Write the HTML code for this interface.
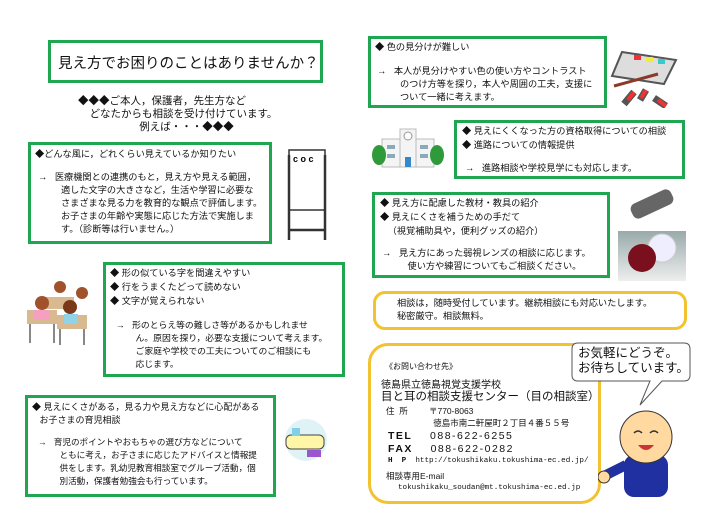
<!DOCTYPE html>
<html><head><meta charset="utf-8"><style>
*{margin:0;padding:0;box-sizing:border-box}
body{width:718px;height:519px;background:#fff;position:relative;overflow:hidden;font-family:"Liberation Sans","Noto Sans CJK JP",sans-serif;color:#111}
.a{position:absolute}
.g{position:absolute;border:3px solid #1fa650;background:#fff}
.t{font-size:9.2px;line-height:13px;white-space:nowrap}
.y{position:absolute;border:3px solid #f2c230;border-radius:12px;background:#fff}
</style></head><body>
<div class="g" style="left:48px;top:40px;width:275px;height:43px"></div>
<div class="a" style="left:58px;top:52px;font-size:14.5px">見え方でお困りのことはありませんか？</div>
<div class="a t" style="left:78px;top:95px;font-size:10.5px;line-height:13px">◆◆◆ご本人，保護者，先生方など<br>&nbsp;&nbsp;&nbsp;&nbsp;どなたからも相談を受け付けています。<br>&nbsp;&nbsp;&nbsp;&nbsp;&nbsp;&nbsp;&nbsp;&nbsp;&nbsp;&nbsp;&nbsp;&nbsp;&nbsp;&nbsp;&nbsp;&nbsp;&nbsp;&nbsp;&nbsp;&nbsp;&nbsp;例えば・・・◆◆◆</div>

<div class="g" style="left:28px;top:142px;width:244px;height:102px"></div>
<div class="a t" style="left:35px;top:148px">◆どんな風に，どれくらい見えているか知りたい</div>
<div class="a t" style="left:38px;top:171px">→&nbsp;&nbsp;&nbsp;医療機関との連携のもと，見え方や見える範囲，<br>&nbsp;&nbsp;&nbsp;&nbsp;&nbsp;&nbsp;&nbsp;&nbsp;&nbsp;適した文字の大きさなど，生活や学習に必要な<br>&nbsp;&nbsp;&nbsp;&nbsp;&nbsp;&nbsp;&nbsp;&nbsp;&nbsp;さまざまな見る力を教育的な観点で評価します。<br>&nbsp;&nbsp;&nbsp;&nbsp;&nbsp;&nbsp;&nbsp;&nbsp;&nbsp;お子さまの年齢や実態に応じた方法で実施しま<br>&nbsp;&nbsp;&nbsp;&nbsp;&nbsp;&nbsp;&nbsp;&nbsp;&nbsp;す。（診断等は行いません。）</div>
<svg class="a" style="left:284px;top:145px" width="46" height="100"><rect x="5" y="5" width="36" height="60" fill="#fff" stroke="#333" stroke-width="1.5"/><text x="9" y="17" font-size="9" font-weight="bold" font-family="Liberation Sans">c o c</text><path d="M5 10V95M41 10V95M5 85H41" stroke="#333" stroke-width="2.5" fill="none"/></svg>

<svg class="a" style="left:22px;top:275px" width="78" height="72"><rect x="5" y="35" width="30" height="14" fill="#d9b98f"/><rect x="35" y="40" width="30" height="14" fill="#d9b98f"/><rect x="22" y="22" width="30" height="12" fill="#d9b98f"/><circle cx="20" cy="28" r="7" fill="#a0522d"/><circle cx="48" cy="32" r="7" fill="#7a3a1a"/><circle cx="38" cy="12" r="6" fill="#a0522d"/><circle cx="60" cy="18" r="6" fill="#a0522d"/><rect x="12" y="35" width="16" height="10" fill="#f5a0c0"/><rect x="42" y="39" width="14" height="10" fill="#8fd3e8"/><path d="M8 49V68M32 49V68M38 54V70M62 54V70" stroke="#888" stroke-width="2"/></svg>
<div class="g" style="left:103px;top:262px;width:242px;height:115px"></div>
<div class="a t" style="left:110px;top:266px;line-height:14px">◆ 形の似ている字を間違えやすい<br>◆ 行をうまくたどって読めない<br>◆ 文字が覚えられない</div>
<div class="a t" style="left:116px;top:319px;font-size:8.8px">→&nbsp;&nbsp;&nbsp;形のとらえ等の難しさ等があるかもしれませ<br>&nbsp;&nbsp;&nbsp;&nbsp;&nbsp;&nbsp;&nbsp;&nbsp;ん。原因を探り，必要な支援について考えます。<br>&nbsp;&nbsp;&nbsp;&nbsp;&nbsp;&nbsp;&nbsp;&nbsp;ご家庭や学校での工夫についてのご相談にも<br>&nbsp;&nbsp;&nbsp;&nbsp;&nbsp;&nbsp;&nbsp;&nbsp;応じます。</div>

<div class="g" style="left:25px;top:395px;width:251px;height:102px"></div>
<div class="a t" style="left:32px;top:401px;font-size:9px">◆ 見えにくさがある，見る力や見え方などに心配がある<br>&nbsp;&nbsp;&nbsp;お子さまの育児相談</div>
<div class="a t" style="left:38px;top:436px;font-size:8.6px">→&nbsp;&nbsp;&nbsp;育児のポイントやおもちゃの選び方などについて<br>&nbsp;&nbsp;&nbsp;&nbsp;&nbsp;&nbsp;&nbsp;&nbsp;&nbsp;ともに考え，お子さまに応じたアドバイスと情報提<br>&nbsp;&nbsp;&nbsp;&nbsp;&nbsp;&nbsp;&nbsp;&nbsp;&nbsp;供をします。乳幼児教育相談室でグループ活動，個<br>&nbsp;&nbsp;&nbsp;&nbsp;&nbsp;&nbsp;&nbsp;&nbsp;&nbsp;別活動，保護者勉強会も行っています。</div>
<svg class="a" style="left:280px;top:418px" width="52" height="44"><circle cx="26" cy="22" r="21" fill="#dff2f5"/><rect x="6" y="17" width="38" height="14" rx="5" fill="#fff6a8" stroke="#444"/><rect x="12" y="10" width="8" height="8" fill="#7fd0e8"/><rect x="27" y="32" width="14" height="7" fill="#9a55d0"/></svg>

<div class="g" style="left:368px;top:36px;width:239px;height:72px"></div>
<div class="a t" style="left:375px;top:41px">◆ 色の見分けが難しい</div>
<div class="a t" style="left:377px;top:65px">→&nbsp;&nbsp;&nbsp;本人が見分けやすい色の使い方やコントラスト<br>&nbsp;&nbsp;&nbsp;&nbsp;&nbsp;&nbsp;&nbsp;&nbsp;&nbsp;のつけ方等を探り，本人や周囲の工夫，支援に<br>&nbsp;&nbsp;&nbsp;&nbsp;&nbsp;&nbsp;&nbsp;&nbsp;&nbsp;ついて一緒に考えます。</div>
<svg class="a" style="left:610px;top:48px" width="72" height="60"><path d="M12 4L66 12L54 36L2 28Z" fill="#ddd" stroke="#555" stroke-width="2"/><rect x="24" y="7" width="7" height="5" fill="#e33"/><rect x="36" y="9" width="7" height="5" fill="#ee3"/><rect x="48" y="11" width="7" height="5" fill="#3cc"/><path d="M4 38L48 26" stroke="#8b3a2a" stroke-width="3"/><path d="M14 56L24 44M30 52L36 42M44 50L56 58" stroke="#555" stroke-width="7"/><path d="M18 52L24 44M31 50L36 42M48 52L56 58" stroke="#e33" stroke-width="4"/></svg>

<svg class="a" style="left:372px;top:127px" width="72" height="42"><rect x="10" y="12" width="52" height="28" fill="#f4f4f4" stroke="#bbb"/><rect x="28" y="2" width="16" height="38" fill="#f4f4f4" stroke="#bbb"/><circle cx="36" cy="9" r="4" fill="#fff" stroke="#999"/><rect x="15" y="18" width="8" height="4" fill="#8ab"/><rect x="48" y="18" width="8" height="4" fill="#8ab"/><rect x="15" y="27" width="8" height="4" fill="#8ab"/><rect x="48" y="27" width="8" height="4" fill="#8ab"/><rect x="33" y="30" width="6" height="10" fill="#38c"/><ellipse cx="7" cy="28" rx="7" ry="10" fill="#2f9a3a"/><ellipse cx="65" cy="28" rx="7" ry="10" fill="#2f9a3a"/></svg>
<div class="g" style="left:454px;top:120px;width:231px;height:59px"></div>
<div class="a t" style="left:462px;top:124px;line-height:14px">◆ 見えにくくなった方の資格取得についての相談<br>◆ 進路についての情報提供</div>
<div class="a t" style="left:465px;top:162px">→&nbsp;&nbsp;&nbsp;進路相談や学校見学にも対応します。</div>

<div class="g" style="left:372px;top:192px;width:238px;height:86px"></div>
<div class="a t" style="left:380px;top:196px;line-height:14px">◆ 見え方に配慮した教材・教具の紹介<br>◆ 見えにくさを補うための手だて<br>&nbsp;&nbsp;&nbsp;（視覚補助具や，便利グッズの紹介）</div>
<div class="a t" style="left:382px;top:247px">→&nbsp;&nbsp;&nbsp;見え方にあった弱視レンズの相談に応じます。<br>&nbsp;&nbsp;&nbsp;&nbsp;&nbsp;&nbsp;&nbsp;&nbsp;&nbsp;&nbsp;使い方や練習についてもご相談ください。</div>
<svg class="a" style="left:618px;top:186px" width="70" height="95"><rect x="12" y="10" width="44" height="16" rx="6" fill="#666" transform="rotate(-25 34 18)"/><defs><linearGradient id="bg" x1="0" y1="0" x2="0" y2="1"><stop offset="0" stop-color="#9aa"/><stop offset="1" stop-color="#eee"/></linearGradient></defs><rect x="0" y="45" width="68" height="50" fill="url(#bg)"/><circle cx="44" cy="62" r="14" fill="#eef" stroke="#ccc"/><circle cx="24" cy="72" r="14" fill="#7a0f1e"/></svg>

<div class="y" style="left:373px;top:291px;width:314px;height:39px"></div>
<div class="a t" style="left:397px;top:297px">相談は，随時受付しています。継続相談にも対応いたします。<br>秘密厳守。相談無料。</div>

<div class="y" style="left:368px;top:343px;width:233px;height:161px;border-radius:20px"></div>
<div class="a" style="left:385px;top:361px;font-size:8px">《お問い合わせ先》</div>
<div class="a" style="left:381px;top:376px;font-size:10px">徳島県立徳島視覚支援学校</div>
<div class="a" style="left:381px;top:388px;font-size:11.5px">目と耳の相談支援センター（目の相談室）</div>
<div class="a" style="left:386px;top:405px;font-size:8.5px;line-height:12px">住&nbsp;&nbsp;所&nbsp;&nbsp;&nbsp;&nbsp;&nbsp;&nbsp;&nbsp;&nbsp;&nbsp;〒770-8063<br>&nbsp;&nbsp;&nbsp;&nbsp;&nbsp;&nbsp;&nbsp;&nbsp;&nbsp;&nbsp;&nbsp;&nbsp;&nbsp;&nbsp;&nbsp;&nbsp;&nbsp;&nbsp;&nbsp;&nbsp;徳島市南二軒屋町２丁目４番５５号</div>
<div class="a" style="left:388px;top:430px;font-size:10.5px;line-height:13px;letter-spacing:1.5px"><b>TEL</b>&nbsp;&nbsp;&nbsp;&nbsp;088-622-6255<br><b>FAX</b>&nbsp;&nbsp;&nbsp;&nbsp;088-622-0282</div>
<div class="a" style="left:388px;top:457px;font-size:7.6px;font-family:'Liberation Mono',monospace"><b>H&nbsp;&nbsp;P</b>&nbsp;&nbsp;http://tokushikaku.tokushima-ec.ed.jp/</div>
<div class="a" style="left:386px;top:470px;font-size:8.5px">相談専用E-mail</div>
<div class="a" style="left:398px;top:484px;font-size:7.6px;font-family:'Liberation Mono',monospace">tokushikaku_soudan@mt.tokushima-ec.ed.jp</div>

<svg class="a" style="left:570px;top:341px" width="124" height="70"><path d="M8 2H114Q120 2 120 8V34Q120 40 114 40H92L70 64L80 40H8Q2 40 2 34V8Q2 2 8 2Z" fill="#fff" stroke="#555"/></svg>
<div class="a" style="left:578px;top:346px;font-size:12.5px;line-height:15px">お気軽にどうぞ。<br>お待ちしています。</div>
<svg class="a" style="left:598px;top:405px" width="90" height="95"><rect x="26" y="50" width="44" height="42" rx="10" fill="#2030a0"/><path d="M28 60L4 72" stroke="#2030a0" stroke-width="10"/><circle cx="6" cy="72" r="6" fill="#ffd9a0" stroke="#333"/><circle cx="48" cy="32" r="26" fill="#ffd9a0" stroke="#333"/><path d="M36 28q4-4 8 0M52 28q4-4 8 0" stroke="#333" fill="none" stroke-width="1.5"/><path d="M40 40q8 10 16 0z" fill="#c33"/></svg>
</body></html>
